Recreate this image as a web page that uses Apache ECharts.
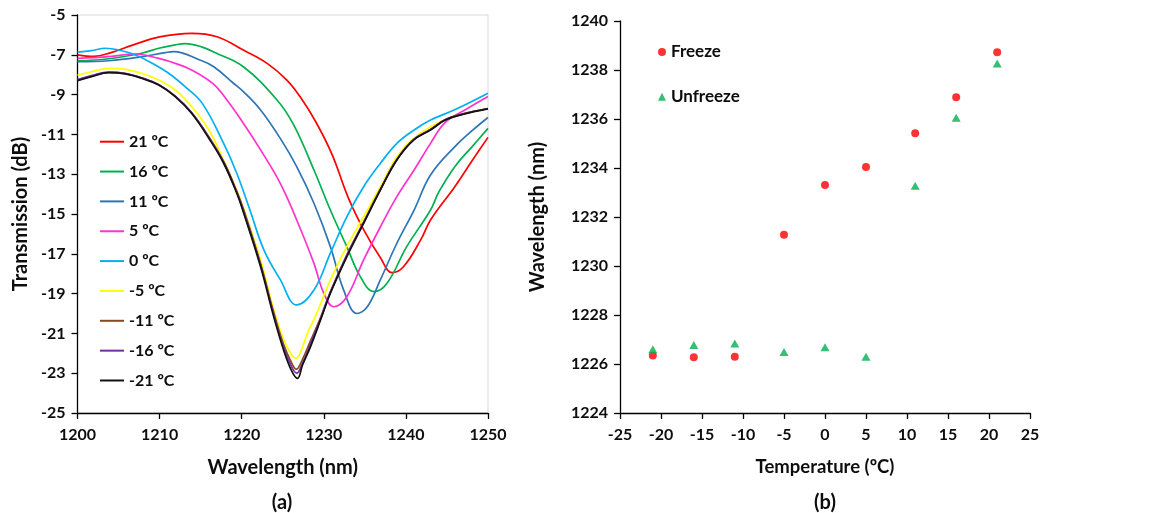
<!DOCTYPE html>
<html><head><meta charset="utf-8">
<script src="https://cdn.jsdelivr.net/npm/echarts@6/dist/echarts.min.js"></script>
<style>html,body{margin:0;padding:0;background:#fff}#c{width:1159px;height:513px}</style>
</head><body><div id="c"></div>
<script>
// ---------- Panel (a): transmission spectra [wavelength nm, transmission dB] ----------
const spec21 = [[1200,-7.0],[1202,-7.08],[1204,-6.9],[1206.8,-6.5],[1210,-6.1],[1213.9,-5.92],[1217,-6.09],[1220.2,-6.76],[1223.1,-7.43],[1225.5,-8.27],[1227.1,-9.1],[1229.0,-10.35],[1231.0,-12.0],[1233.0,-14.2],[1235.0,-15.9],[1236.9,-17.2],[1238.3,-17.95],[1239.7,-17.65],[1241.8,-16.3],[1243.0,-15.3],[1246.0,-13.6],[1248.1,-12.3],[1250,-11.15]];
const spec16 = [[1200,-7.3],[1203.8,-7.2],[1207.8,-6.92],[1209.9,-6.67],[1211.9,-6.5],[1213.1,-6.44],[1215.1,-6.6],[1216.8,-6.9],[1220.2,-7.6],[1224.3,-9.27],[1226.3,-10.5],[1228.8,-12.79],[1230.8,-14.8],[1232.8,-16.64],[1234.45,-18.15],[1236.1,-18.9],[1237.7,-18.48],[1240.1,-16.64],[1243.0,-14.8],[1244.0,-13.9],[1246.0,-12.6],[1248.1,-11.6],[1250,-10.7]];
const spec11 = [[1200,-7.35],[1203.8,-7.3],[1207.8,-7.1],[1210.7,-6.89],[1211.7,-6.84],[1214.9,-7.26],[1216.6,-7.6],[1219.0,-8.43],[1220.2,-8.85],[1222.3,-9.77],[1224.7,-11.2],[1226.7,-12.62],[1228.8,-14.46],[1230.8,-16.64],[1232.4,-18.8],[1234.05,-20.0],[1235.3,-19.66],[1236.9,-18.3],[1238.9,-16.47],[1241.0,-14.8],[1243.0,-13.04],[1246.0,-11.6],[1248.1,-10.8],[1250,-10.15]];
const spec5 = [[1200,-7.18],[1203.8,-7.09],[1207.0,-6.96],[1209.9,-7.18],[1211.9,-7.43],[1213.9,-7.76],[1216.5,-8.45],[1218.2,-9.27],[1220.2,-10.44],[1222.3,-11.78],[1224.7,-13.46],[1226.7,-15.3],[1228.8,-17.48],[1230.0,-18.98],[1231.2,-19.66],[1232.8,-19.16],[1234.85,-17.31],[1236.9,-15.64],[1238.9,-14.13],[1241.0,-12.79],[1243.0,-11.45],[1244.8,-10.4],[1247.3,-9.75],[1250,-9.1]];
const spec0 = [[1200,-6.87],[1201.7,-6.79],[1203.4,-6.67],[1205.0,-6.76],[1207.0,-7.0],[1209.1,-7.43],[1211.1,-7.93],[1213.1,-8.6],[1215.2,-9.44],[1217.8,-11.45],[1219.4,-12.95],[1221.0,-14.8],[1222.7,-16.8],[1224.7,-18.3],[1226.7,-19.57],[1228.8,-18.82],[1230.8,-16.97],[1232.8,-15.14],[1234.85,-13.63],[1236.9,-12.45],[1238.9,-11.45],[1241.0,-10.78],[1243.0,-10.28],[1246.0,-9.75],[1250,-8.93]];
const specM5 = [[1200,-8.02],[1201.7,-7.85],[1203.8,-7.68],[1205.8,-7.73],[1207.8,-7.93],[1209.9,-8.27],[1211.9,-8.77],[1213.9,-9.6],[1216.0,-10.78],[1217.8,-12.3],[1219.4,-13.8],[1220.4,-14.95],[1222.3,-17.3],[1223.9,-19.8],[1225.1,-21.3],[1226.1,-22.1],[1226.65,-22.25],[1227.3,-21.8],[1228.0,-21.0],[1228.96,-20.16],[1230.8,-18.32],[1232.8,-16.64],[1234.85,-15.14],[1236.9,-13.63],[1238.9,-12.12],[1240.95,-11.2],[1243.0,-10.61],[1244.8,-10.25],[1246.9,-9.98],[1250,-9.7]];
const specM11 = [[1200,-8.28],[1201.7,-8.08],[1203.8,-7.88],[1205.8,-7.94],[1207.8,-8.16],[1209.9,-8.5],[1211.9,-9.08],[1213.9,-9.9],[1216.0,-11.12],[1217.8,-12.36],[1219.4,-13.86],[1220.3,-14.85],[1222.3,-17.5],[1223.9,-19.95],[1225.1,-21.55],[1226.1,-22.5],[1226.65,-22.8],[1227.4,-22.3],[1228.35,-21.4],[1229.6,-20.2],[1230.8,-18.9],[1232.8,-17.05],[1234.85,-15.4],[1236.9,-13.74],[1238.9,-12.25],[1240.95,-11.25],[1243.0,-10.74],[1244.8,-10.25],[1246.9,-9.97],[1250,-9.7]];
const specM16 = [[1200,-8.25],[1201.7,-8.05],[1203.8,-7.87],[1205.8,-7.93],[1207.8,-8.15],[1209.9,-8.5],[1211.9,-9.08],[1213.9,-9.92],[1216.0,-11.15],[1217.8,-12.4],[1219.4,-13.9],[1220.2,-14.85],[1222.3,-17.55],[1223.9,-20.05],[1225.1,-21.7],[1226.1,-22.7],[1226.7,-23.0],[1227.4,-22.5],[1228.35,-21.55],[1229.6,-20.28],[1230.8,-18.95],[1232.8,-17.1],[1234.85,-15.44],[1236.9,-13.77],[1238.9,-12.27],[1240.95,-11.27],[1243.0,-10.76],[1244.8,-10.26],[1246.9,-9.98],[1250,-9.7]];
const specM21 = [[1200,-8.3],[1201.7,-8.1],[1203.8,-7.9],[1205.8,-7.96],[1207.8,-8.18],[1209.9,-8.52],[1211.9,-9.1],[1213.9,-9.94],[1216.0,-11.2],[1217.8,-12.45],[1219.4,-13.96],[1220.2,-14.9],[1222.3,-17.65],[1223.9,-20.16],[1225.1,-21.83],[1226.1,-22.9],[1226.8,-23.26],[1227.4,-22.6],[1228.35,-21.7],[1229.6,-20.33],[1230.8,-18.98],[1232.8,-17.15],[1234.85,-15.47],[1236.9,-13.79],[1238.9,-12.29],[1240.95,-11.28],[1243.0,-10.78],[1244.8,-10.28],[1246.9,-10.0],[1250,-9.72]];

const specNames = ['21 ºC','16 ºC','11 ºC','5 ºC','0 ºC','-5 ºC','-11 ºC','-16 ºC','-21 ºC'];
const specColors = ['#ff0000','#00b050','#2e75b6','#ff33cc','#00b0f0','#ffff00','#8b4a1c','#7030a0','#111111'];
const specData = [spec21, spec16, spec11, spec5, spec0, specM5, specM11, specM16, specM21];

// ---------- Panel (b): resonance wavelength vs temperature ----------
const temperatures = [-21,-16,-11,-5,0,5,11,16,21];
const freeze   = [1226.35,1226.28,1226.3,1231.28,1233.31,1234.04,1235.42,1236.89,1238.72];
const unfreeze = [1226.6,1226.78,1226.84,1226.49,1226.68,1226.3,1233.28,1236.05,1238.27];

const FONT = 'Lato, "Open Sans", sans-serif';
const TXT = '#0d0d0d';
const axisLine = {show:true, onZero:false, lineStyle:{color:'#000', width:1.3}};
const axisTick = {show:true, inside:false, length:6, lineStyle:{color:'#000', width:1.3}};
const lbl = (m) => ({color:TXT, fontFamily:FONT, fontWeight:'bold', fontSize:16, margin:m, formatter:(v)=>String(v)});
const nameStyle = (s) => ({color:TXT, fontFamily:FONT, fontWeight:'bold', fontSize:s});

const series = specData.map((d, i) => ({
  name: specNames[i], type:'line', xAxisIndex:0, yAxisIndex:0,
  data: d, symbol:'none', smooth:0.4,
  lineStyle:{color:specColors[i], width:1.7}, itemStyle:{color:specColors[i]},
  z: 2 + i
}));
series.push({
  name:'Freeze', type:'scatter', xAxisIndex:1, yAxisIndex:1,
  data: temperatures.map((t,i)=>[t, freeze[i]]), symbol:'circle', symbolSize:8,
  itemStyle:{color:'#ff0000'}
});
series.push({
  name:'Unfreeze', type:'scatter', xAxisIndex:1, yAxisIndex:1,
  data: temperatures.map((t,i)=>[t, unfreeze[i]]), symbol:'triangle', symbolSize:[9,8],
  itemStyle:{color:'#00b050'}
});

const option = {
  animation:false,
  backgroundColor:'#fff',
  grid:[
    {left:77.5, top:15, width:410.5, height:398, show:true, borderColor:'#d3dbe6', borderWidth:1, backgroundColor:'transparent'},
    {left:620, top:21, width:410, height:392}
  ],
  xAxis:[
    {gridIndex:0, type:'value', min:1200, max:1250, interval:10, axisLine, axisTick, splitLine:{show:false},
     axisLabel:lbl(14), name:'Wavelength (nm)', nameLocation:'middle', nameGap:45, nameTextStyle:nameStyle(20)},
    {gridIndex:1, type:'value', min:-25, max:25, interval:5, axisLine, axisTick, splitLine:{show:false},
     axisLabel:lbl(14), name:'Temperature (ºC)', nameLocation:'middle', nameGap:45, nameTextStyle:nameStyle(18.5)}
  ],
  yAxis:[
    {gridIndex:0, type:'value', min:-25, max:-5, interval:2, axisLine, axisTick, splitLine:{show:false},
     axisLabel:lbl(12), name:'Transmission (dB)', nameLocation:'middle', nameGap:47, nameTextStyle:nameStyle(20)},
    {gridIndex:1, type:'value', min:1224, max:1240, interval:2, axisLine, axisTick, splitLine:{show:false},
     axisLabel:lbl(12), name:'Wavelength (nm)', nameLocation:'middle', nameGap:72, nameTextStyle:nameStyle(20)}
  ],
  legend:[
    {data:specNames, orient:'vertical', left:100, top:133.7, padding:0, itemWidth:24, itemHeight:15, itemGap:13.85,
     selectedMode:false, icon:'path://M0,6 L24,6 L24,8 L0,8 Z',
     textStyle:{color:TXT, fontFamily:FONT, fontWeight:'bold', fontSize:16, lineHeight:15}},
    {data:[{name:'Freeze', icon:'circle'},{name:'Unfreeze', icon:'triangle'}], orient:'vertical', left:658, top:43, padding:0,
     itemWidth:8, itemHeight:8, itemGap:26.7, selectedMode:false,
     textStyle:{color:TXT, fontFamily:FONT, fontWeight:'bold', fontSize:17, lineHeight:18}}
  ],
  graphic:[
    {type:'text', x:282, y:503, style:{text:'(a)', fill:TXT, font:'bold 20px ' + FONT, align:'center', verticalAlign:'middle'}},
    {type:'text', x:825, y:503, style:{text:'(b)', fill:TXT, font:'bold 20px ' + FONT, align:'center', verticalAlign:'middle'}}
  ],
  series
};
const chart = echarts.init(document.getElementById('c'));
chart.setOption(option);
</script>
</body></html>
